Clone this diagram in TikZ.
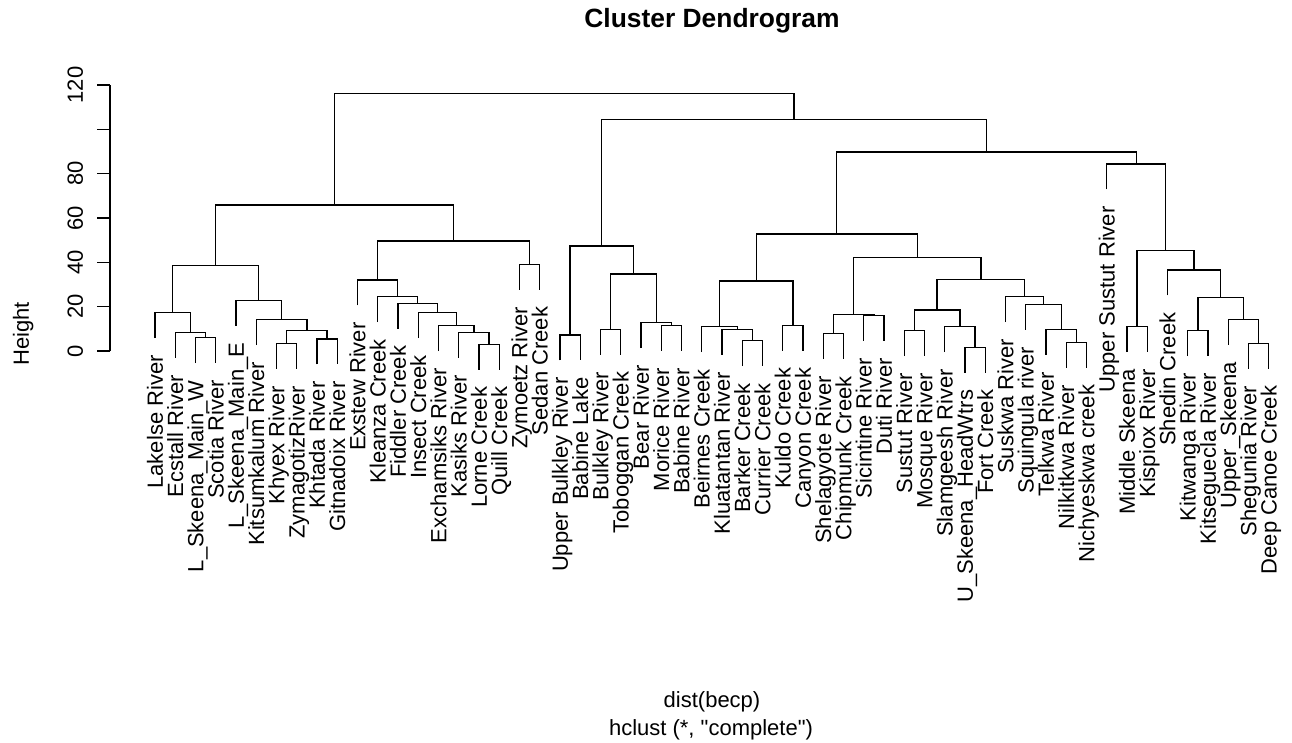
\documentclass[tikz,border=0pt]{standalone}
\usepackage{fontspec}
\setmainfont{Liberation Sans}
\newfontfamily\rawfont{Liberation Sans}[Ligatures=TeXOff]
\newcommand\mergebr[3]{\draw[branch] (#2) |- (#1) -| (#3);}
\begin{document}
\begin{tikzpicture}[x=1pt,y=-1pt,
  branch/.style={line width=1.35pt,black},
  axisline/.style={line width=1.35pt,black},
  leaflab/.style={rotate=90,anchor=east,inner sep=0pt,text height=15.7pt,text depth=0pt,
    font=\fontsize{22}{26}\selectfont},
  ticklab/.style={rotate=90,anchor=center,inner sep=0pt,text height=15.7pt,text depth=0pt,
    font=\fontsize{22}{26}\selectfont},
  plaintext/.style={inner sep=0pt,font=\fontsize{22}{26}\selectfont},
  titletext/.style={inner sep=0pt,font=\fontsize{26.4}{30}\selectfont\bfseries}]
\fill[white] (0,0) rectangle (1292,742);
\useasboundingbox (0,0) rectangle (1292,742);

% leaves
\foreach \i/\nm/\ey in {
1/Lakelse River/338.0,
2/Ecstall River/357.6,
3/L\_Skeena\_Main\_W/363.0,
4/Scotia River/363.0,
5/L\_Skeena\_Main\_E/325.6,
6/Kitsumkalum River/345.0,
7/Khyex River/368.6,
8/ZymagotizRiver/368.6,
9/Khtada River/364.3,
10/Gitnadoix River/364.3,
11/Exstew River/305.3,
12/Kleanza Creek/322.0,
13/Fiddler Creek/328.6,
14/Insect Creek/338.0,
15/Exchamsiks River/351.0,
16/Kasiks River/357.6,
17/Lorne Creek/369.6,
18/Quill Creek/369.6,
19/Zymoetz River/289.6,
20/Sedan Creek/289.6,
21/Upper Bulkley River/360.3,
22/Babine Lake/360.3,
23/Bulkley River/354.6,
24/Toboggan Creek/354.6,
25/Bear River/348.0,
26/Morice River/350.6,
27/Babine River/350.6,
28/Beirnes Creek/352.0,
29/Kluatantan River/354.6,
30/Barker Creek/366.0,
31/Currier Creek/366.0,
32/Kuldo Creek/350.6,
33/Canyon Creek/350.6,
34/Shelagyote River/359.0,
35/Chipmunk Creek/359.0,
36/Sicintine River/340.6,
37/Duti River/340.6,
38/Sustut River/356.0,
39/Mosque River/356.0,
40/Slamgeesh River/352.0,
41/U\_Skeena\_HeadWtrs/372.6,
42/Fort Creek/372.6,
43/Suskwa River/322.0,
44/Squingula river/329.6,
45/Telkwa River/354.6,
46/Nilkitkwa River/367.6,
47/Nichyeskwa creek/367.6,
48/Upper Sustut River/189.3,
49/Middle Skeena/352.0,
50/Kispiox River/352.0,
51/Shedin Creek/295.3,
52/Kitwanga River/356.0,
53/Kitseguecla River/356.0,
54/Upper\_Skeena/344.6,
55/Shegunia River/368.6,
56/Deep Canoe Creek/368.6}{
  \coordinate (e\i) at ({155+(\i-1)*20.25},\ey);
  \node[leaflab] (n\i) at ([yshift=-17pt]e\i) {\nm};
}

% merge points
\coordinate (mA1) at (205.625,337.7);
\coordinate (mA2) at (190.44,332.3);
\coordinate (mA3) at (172.72,312.7);
\coordinate (mB1) at (286.625,343.3);
\coordinate (mB2) at (327.125,339.0);
\coordinate (mB3) at (306.875,330.7);
\coordinate (mB4) at (281.56,319.7);
\coordinate (mB5) at (258.78,300.3);
\coordinate (mAB) at (215.75,265.7);
\coordinate (mC1) at (489.125,344.3);
\coordinate (mC2) at (473.94,332.3);
\coordinate (mC3) at (456.22,325.7);
\coordinate (mC4) at (437.23,312.7);
\coordinate (mC5) at (417.62,303.3);
\coordinate (mC6) at (397.68,296.7);
\coordinate (mC7) at (377.59,280.0);
\coordinate (mD) at (529.625,264.3);
\coordinate (mCD) at (453.61,241.0);
\coordinate (mL) at (334.68,205.0);
\coordinate (mE1) at (570.125,335.0);
\coordinate (mE2) at (610.625,329.3);
\coordinate (mE3) at (671.375,325.3);
\coordinate (mE4) at (656.19,322.7);
\coordinate (mE5) at (633.41,274.0);
\coordinate (mE) at (601.77,246.0);
\coordinate (mF1) at (752.375,340.7);
\coordinate (mF2) at (737.19,329.3);
\coordinate (mF3) at (719.47,326.7);
\coordinate (mF4) at (792.875,325.3);
\coordinate (mF) at (756.17,281.0);
\coordinate (mG1) at (833.375,333.7);
\coordinate (mG2) at (873.875,315.3);
\coordinate (mG) at (853.625,314.7);
\coordinate (mH1) at (914.375,330.7);
\coordinate (mH2) at (975.125,347.3);
\coordinate (mH3) at (959.94,326.7);
\coordinate (mH4) at (937.16,310.0);
\coordinate (mI1) at (1076.375,342.3);
\coordinate (mI2) at (1061.19,329.3);
\coordinate (mI3) at (1043.47,304.3);
\coordinate (mI4) at (1024.48,296.7);
\coordinate (mHI) at (980.82,279.3);
\coordinate (mGHI) at (917.22,257.7);
\coordinate (mFG) at (836.7,234.0);
\coordinate (mJ1) at (1137.125,326.7);
\coordinate (mJ2) at (1197.875,330.7);
\coordinate (mJ3) at (1258.625,343.3);
\coordinate (mJ4) at (1243.44,319.3);
\coordinate (mJ5) at (1220.66,297.7);
\coordinate (mJ6) at (1194.08,270.0);
\coordinate (mJ7) at (1165.6,250.7);
\coordinate (mJ) at (1136.18,164.0);
\coordinate (mK) at (986.44,152.0);
\coordinate (mR) at (794.1,119.3);
\coordinate (root) at (564.4,93.3);

% branches
\mergebr{mA1}{e3}{e4}
\mergebr{mA2}{e2}{mA1}
\mergebr{mA3}{e1}{mA2}
\mergebr{mB1}{e7}{e8}
\mergebr{mB2}{e9}{e10}
\mergebr{mB3}{mB1}{mB2}
\mergebr{mB4}{e6}{mB3}
\mergebr{mB5}{e5}{mB4}
\mergebr{mAB}{mA3}{mB5}
\mergebr{mC1}{e17}{e18}
\mergebr{mC2}{e16}{mC1}
\mergebr{mC3}{e15}{mC2}
\mergebr{mC4}{e14}{mC3}
\mergebr{mC5}{e13}{mC4}
\mergebr{mC6}{e12}{mC5}
\mergebr{mC7}{e11}{mC6}
\mergebr{mD}{e19}{e20}
\mergebr{mCD}{mC7}{mD}
\mergebr{mL}{mAB}{mCD}
\mergebr{mE1}{e21}{e22}
\mergebr{mE2}{e23}{e24}
\mergebr{mE3}{e26}{e27}
\mergebr{mE4}{e25}{mE3}
\mergebr{mE5}{mE2}{mE4}
\mergebr{mE}{mE1}{mE5}
\mergebr{mF1}{e30}{e31}
\mergebr{mF2}{e29}{mF1}
\mergebr{mF3}{e28}{mF2}
\mergebr{mF4}{e32}{e33}
\mergebr{mF}{mF3}{mF4}
\mergebr{mG1}{e34}{e35}
\mergebr{mG2}{e36}{e37}
\mergebr{mG}{mG1}{mG2}
\mergebr{mH1}{e38}{e39}
\mergebr{mH2}{e41}{e42}
\mergebr{mH3}{e40}{mH2}
\mergebr{mH4}{mH1}{mH3}
\mergebr{mI1}{e46}{e47}
\mergebr{mI2}{e45}{mI1}
\mergebr{mI3}{e44}{mI2}
\mergebr{mI4}{e43}{mI3}
\mergebr{mHI}{mH4}{mI4}
\mergebr{mGHI}{mG}{mHI}
\mergebr{mFG}{mF}{mGHI}
\mergebr{mJ1}{e49}{e50}
\mergebr{mJ2}{e52}{e53}
\mergebr{mJ3}{e55}{e56}
\mergebr{mJ4}{e54}{mJ3}
\mergebr{mJ5}{mJ2}{mJ4}
\mergebr{mJ6}{e51}{mJ5}
\mergebr{mJ7}{mJ1}{mJ6}
\mergebr{mJ}{e48}{mJ7}
\mergebr{mK}{mFG}{mJ}
\mergebr{mR}{mE}{mK}
\mergebr{root}{mL}{mR}

% y axis
\coordinate (ax0) at (110,351);
\coordinate (ax120) at (110,85);
\draw[axisline] (ax0) -- (ax120);
\foreach \v in {0,20,40,60,80,100,120}{
  \coordinate (tk\v) at (110,{351-\v*2.2167});
  \coordinate (tq\v) at (97,{351-\v*2.2167});
  \draw[axisline] (tk\v) -- (tq\v);
}
\foreach \v in {0,20,40,60,80,120}{
  \node[ticklab] (tl\v) at (75,{351-\v*2.2167}) {\v};
}
\node[ticklab] (ylab) at (21,334) {Height};

% titles
\node[titletext] (title) at (712,21) {Cluster Dendrogram};
\node[plaintext] (xlab) at (712,701.5) {dist(becp)};
\node[plaintext] (sub) at (711,729.5) {\rawfont hclust (*, "complete")};
\end{tikzpicture}
\end{document}
